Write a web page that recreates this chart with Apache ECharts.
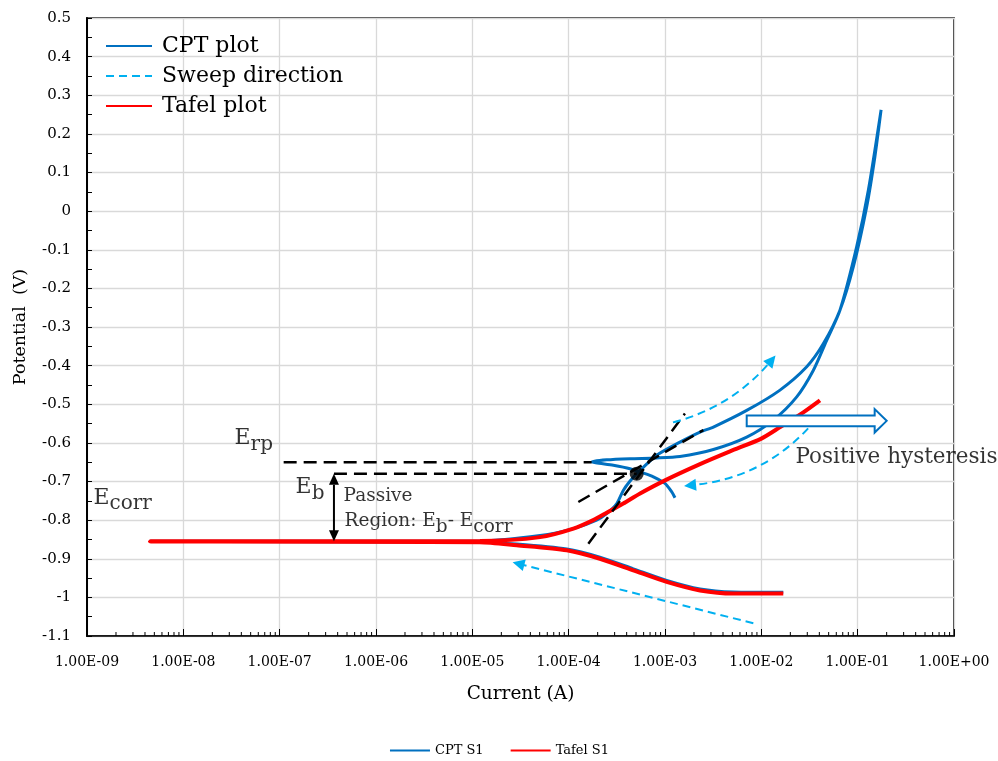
<!DOCTYPE html>
<html>
<head>
<meta charset="utf-8">
<script src="https://cdn.jsdelivr.net/npm/echarts@6/dist/echarts.min.js"></script>
<style>
  html, body { margin: 0; padding: 0; background: #fff; }
  #chart { width: 998px; height: 761px; }
</style>
</head>
<body>
<div id="chart"></div>
<script>
// ---- data: current (A) vs potential (V) ----
const xTickLabels = ['1.00E-09', '1.00E-08', '1.00E-07', '1.00E-06', '1.00E-05',
  '1.00E-04', '1.00E-03', '1.00E-02', '1.00E-01', '1.00E+00'];

// cyclic polarisation scan: cathodic branch, anodic forward scan, reverse scan
const cptS1 = [
  [0.0169, -0.987], [5.12e-3, -0.986], [2.31e-3, -0.978], [1.04e-3, -0.956],
  [4.69e-4, -0.926], [2.11e-4, -0.896], [9.55e-5, -0.875], [2.89e-5, -0.862],
  [1.2e-5, -0.857], [4.5e-9, -0.855], [1.2e-5, -0.854], [5.05e-5, -0.840],
  [1.12e-4, -0.822], [1.95e-4, -0.800], [2.48e-4, -0.783], [3.16e-4, -0.757],
  [3.69e-4, -0.723], [4.3e-4, -0.700], [5.08e-4, -0.680], [8.2e-4, -0.632],
  [1.43e-3, -0.598], [2.31e-3, -0.572], [3.18e-3, -0.559], [7.05e-3, -0.516],
  [0.0155, -0.464], [0.0296, -0.403], [0.0441, -0.343], [0.0656, -0.256],
  [0.0902, -0.144], [0.124, 0.011], [0.151, 0.141], [0.175, 0.262],
  [0.129, 0.054], [0.0977, -0.092], [0.0656, -0.256], [0.0478, -0.334],
  [0.0347, -0.412], [0.0233, -0.481], [0.01334, -0.541], [7.05e-3, -0.585],
  [3.18e-3, -0.617], [1.43e-3, -0.635], [8.2e-4, -0.639], [4.34e-4, -0.641],
  [2.48e-4, -0.644], [1.73e-4, -0.649], [2.91e-4, -0.658], [4.34e-4, -0.667],
  [6.1e-4, -0.679], [7.57e-4, -0.688], [1.0e-3, -0.705], [1.175e-3, -0.727],
  [1.27e-3, -0.742]
];

// potentiodynamic (Tafel) scan
const tafelS1 = [
  [0.0169, -0.990], [5.12e-3, -0.990], [2.31e-3, -0.982], [1.04e-3, -0.960],
  [4.69e-4, -0.930], [2.11e-4, -0.900], [9.55e-5, -0.878], [2.89e-5, -0.865],
  [1.2e-5, -0.857], [4.5e-9, -0.855], [1.2e-5, -0.854], [5.05e-5, -0.844],
  [1.12e-4, -0.822], [1.8e-4, -0.800], [2.48e-4, -0.781], [3.69e-4, -0.757],
  [5.51e-4, -0.731], [1.0e-3, -0.697], [2.31e-3, -0.655], [4.73e-3, -0.622],
  [1.0e-2, -0.589], [0.0155, -0.560], [0.0273, -0.521], [0.0406, -0.490]
];

// characteristic potentials (V)
const ERP = -0.65;
const EB = -0.68;
const ECORR = -0.855;
const breakdownCurrent = 5.08e-4;

// dashed guide lines [current, potential]
const erpGuide = [[1.1e-7, ERP], [1.73e-4, ERP]];
const ebGuide = [[3.66e-7, EB], [breakdownCurrent, EB]];
const tangentSteep = [[1.6e-4, -0.861], [1.61e-3, -0.524]];
const tangentShallow = [[1.26e-4, -0.753], [2.5e-3, -0.567]];
const passiveSpan = [[3.66e-7, EB], [3.66e-7, ECORR]];

// sweep direction arrows: start, end
const sweepArrows = [
  { from: [8.26e-3, -1.067], to: [3.01e-5, -0.913], bend: 0 },
  { from: [1.21e-3, -0.547], to: [0.0128, -0.386], bend: -0.16 },
  { from: [0.0376, -0.537], to: [1.82e-3, -0.710], bend: 0.21 }
];

// hollow arrow: start current, tip current, potential
const hysteresisArrow = [[7.05e-3, 0.2, -0.543]];

// text notes anchored at [current, potential] (top-left corner)
const notes = [
  { at: [3.44e-8, -0.562], text: '{e|E}{s|rp}' },
  { at: [1.48e-7, -0.689], text: '{e|E}{s|b}' },
  { at: [1.18e-9, -0.715], text: '{e|E}{s|corr}' },
  { at: [4.66e-7, -0.716], text: '{t|Passive}' },
  { at: [4.77e-7, -0.780], text: '{t|Region: E}{ts|b}{t|- E}{ts|corr}' },
  { at: [0.0229, -0.610], text: '{h|Positive hysteresis}' }
];

// log minor tick positions (2..9 per decade)
const minorTicks = [];
for (let k = -9; k < 0; k++) {
  for (let m = 2; m <= 9; m++) minorTicks.push([m * Math.pow(10, k), -1.1]);
}

const FONT = 'DejaVu Serif';
const BLUE = '#0070C0';
const RED = '#FF0000';
const SKY = '#00B0F0';

const chart = echarts.init(document.getElementById('chart'));

const guideLine = (name, data) => ({
  type: 'line', name, data, symbol: 'none', silent: true, z: 5,
  lineStyle: { color: '#000', width: 2.5, type: [13, 7] }
});

// arrow drawn between two data points, head tip exactly on the end point
const arrowItem = (headLen, headHalf, color, width, dash, both) => (params, api) => {
  const a = api.coord([api.value(0), api.value(1)]);
  const b = api.coord([api.value(2), api.value(3)]);
  const dx = b[0] - a[0], dy = b[1] - a[1];
  const len = Math.hypot(dx, dy), ux = dx / len, uy = dy / len;
  const head = (tip, sx, sy) => ({
    type: 'polygon',
    shape: { points: [
      tip,
      [tip[0] - sx * headLen - sy * headHalf, tip[1] - sy * headLen + sx * headHalf],
      [tip[0] - sx * headLen + sy * headHalf, tip[1] - sy * headLen - sx * headHalf]
    ] },
    style: { fill: color }
  });
  const s = both ? [a[0] + ux * headLen, a[1] + uy * headLen] : a;
  const e = [b[0] - ux * headLen * 0.8, b[1] - uy * headLen * 0.8];
  const children = [
    { type: 'line', shape: { x1: s[0], y1: s[1], x2: e[0], y2: e[1] },
      style: { stroke: color, lineWidth: width, lineDash: dash } },
    head(b, ux, uy)
  ];
  if (both) children.push(head(a, -ux, -uy));
  return { type: 'group', children };
};

chart.setOption({
  animation: false,
  backgroundColor: '#fff',
  textStyle: { fontFamily: FONT, color: '#000' },
  grid: {
    left: 87, right: 44, top: 18, bottom: 125,
    show: true, borderColor: '#000', borderWidth: 1.5, backgroundColor: 'transparent'
  },
  legend: [
    {
      data: ['CPT plot', 'Sweep direction', 'Tafel plot'],
      orient: 'vertical', left: 100, top: 30,
      itemWidth: 46, itemHeight: 14, itemGap: 8,
      itemStyle: { opacity: 0 },
      textStyle: { fontFamily: FONT, fontSize: 22, color: '#000', lineHeight: 22, padding: [0, 0, 0, 5] },
      selectedMode: false
    },
    {
      data: ['CPT S1', 'Tafel S1'],
      orient: 'horizontal', left: 'center', top: 739,
      itemWidth: 40, itemHeight: 12, itemGap: 26,
      itemStyle: { opacity: 0 },
      textStyle: { fontFamily: FONT, fontSize: 13, color: '#000' },
      selectedMode: false
    }
  ],
  xAxis: {
    type: 'log', logBase: 10, min: 1e-9, max: 1, splitNumber: 9,
    name: 'Current (A)', nameLocation: 'middle', nameGap: 49,
    nameTextStyle: { fontFamily: FONT, fontSize: 18.5, color: '#000' },
    axisLine: { onZero: false, lineStyle: { color: '#000', width: 1.5 } },
    axisTick: { show: true, inside: true, length: 7, lineStyle: { color: '#000', width: 1 } },
    axisLabel: {
      fontFamily: FONT, fontSize: 14, color: '#000', margin: 19,
      formatter: v => xTickLabels[Math.round(Math.log10(v)) + 9]
    },
    splitLine: { show: true, lineStyle: { color: '#d9d9d9', width: 1.3 } }
  },
  yAxis: {
    type: 'value', min: -1.1, max: 0.5, interval: 0.1,
    name: 'Potential  (V)', nameLocation: 'middle', nameGap: 58,
    nameTextStyle: { fontFamily: FONT, fontSize: 17.5, color: '#000' },
    axisLine: { show: true, onZero: false, lineStyle: { color: '#000', width: 2 } },
    axisTick: { show: true, inside: true, length: 5, lineStyle: { color: '#000', width: 1 } },
    minorTick: { show: true, splitNumber: 2, length: 5, lineStyle: { color: '#000', width: 1 } },
    axisLabel: {
      fontFamily: FONT, fontSize: 15, color: '#000', margin: 16,
      formatter: v => String(Number(v.toFixed(1)) + 0)
    },
    splitLine: { show: true, lineStyle: { color: '#d9d9d9', width: 1.3 } }
  },
  series: [
    // legend-only entries for the in-plot key
    { type: 'line', name: 'CPT plot', data: [], symbol: 'none', lineStyle: { color: BLUE, width: 4 }, itemStyle: { color: BLUE } },
    { type: 'line', name: 'Sweep direction', data: [], symbol: 'none', lineStyle: { color: SKY, width: 3.5, type: [8, 5] }, itemStyle: { color: SKY } },
    { type: 'line', name: 'Tafel plot', data: [], symbol: 'none', lineStyle: { color: RED, width: 6 }, itemStyle: { color: RED } },

    {
      type: 'line', name: 'CPT S1', data: cptS1, symbol: 'none', smooth: 0.25, z: 3,
      lineStyle: { color: BLUE, width: 3 }, itemStyle: { color: BLUE }
    },
    {
      type: 'line', name: 'Tafel S1', data: tafelS1, symbol: 'none', smooth: 0.25, z: 4,
      lineStyle: { color: RED, width: 4 }, itemStyle: { color: RED }
    },

    guideLine('Erp guide', erpGuide),
    guideLine('Eb guide', ebGuide),
    guideLine('tangent 1', tangentSteep),
    guideLine('tangent 2', tangentShallow),

    {
      type: 'custom', name: 'passive span', silent: true, z: 6,
      encode: { x: [0, 2], y: [1, 3] },
      data: [[passiveSpan[0][0], passiveSpan[0][1], passiveSpan[1][0], passiveSpan[1][1]]],
      renderItem: arrowItem(11, 5, '#000', 2, null, true)
    },
    {
      type: 'lines', name: 'sweep', coordinateSystem: 'cartesian2d', silent: true, z: 6,
      symbol: ['none', 'triangle'], symbolSize: [11, 12],
      lineStyle: { color: SKY, width: 2, type: [8, 5], opacity: 1 },
      data: sweepArrows.map(a => ({ coords: [a.from, a.to], lineStyle: { curveness: a.bend } }))
    },
    {
      type: 'custom', name: 'hysteresis arrow', silent: true, z: 6,
      encode: { x: [0, 1], y: 2 },
      data: hysteresisArrow,
      renderItem: (params, api) => {
        const p0 = api.coord([api.value(0), api.value(2)]);
        const p1 = api.coord([api.value(1), api.value(2)]);
        const y = p0[1], hl = 12, sh = 5.3, hh = 11.7;
        return {
          type: 'polygon',
          shape: { points: [
            [p0[0], y - sh], [p1[0] - hl, y - sh], [p1[0] - hl, y - hh], [p1[0], y],
            [p1[0] - hl, y + hh], [p1[0] - hl, y + sh], [p0[0], y + sh]
          ] },
          style: { fill: '#fff', stroke: BLUE, lineWidth: 2 }
        };
      }
    },
    {
      type: 'scatter', name: 'breakdown', silent: true, z: 7,
      data: [[breakdownCurrent, EB]], symbol: 'circle', symbolSize: 14,
      itemStyle: { color: '#000' }
    },
    {
      type: 'scatter', name: 'notes', silent: true, z: 8,
      symbolSize: 1, itemStyle: { color: 'transparent' },
      data: notes.map(n => ({ value: n.at, label: { formatter: n.text } })),
      label: {
        show: true, position: [0, 0], align: 'left', verticalAlign: 'top',
        fontFamily: FONT, color: '#000',
        rich: {
          e: { fontFamily: FONT, fontSize: 22, color: '#000', verticalAlign: 'top' },
          s: { fontFamily: FONT, fontSize: 20, color: '#000', verticalAlign: 'top', padding: [7, 0, 0, 0] },
          t: { fontFamily: FONT, fontSize: 18.5, color: '#000', verticalAlign: 'top' },
          ts: { fontFamily: FONT, fontSize: 18.5, color: '#000', verticalAlign: 'top', padding: [6, 0, 0, 0] },
          h: { fontFamily: FONT, fontSize: 21.5, color: '#000' }
        }
      }
    },
    {
      type: 'custom', name: 'minor ticks', silent: true, z: 9,
      encode: { x: 0, y: 1 },
      data: minorTicks,
      renderItem: (params, api) => {
        const p = api.coord([api.value(0), api.value(1)]);
        return {
          type: 'line',
          shape: { x1: p[0], y1: p[1], x2: p[0], y2: p[1] - 4 },
          style: { stroke: '#000', lineWidth: 1 }
        };
      }
    }
  ]
});
</script>
</body>
</html>
